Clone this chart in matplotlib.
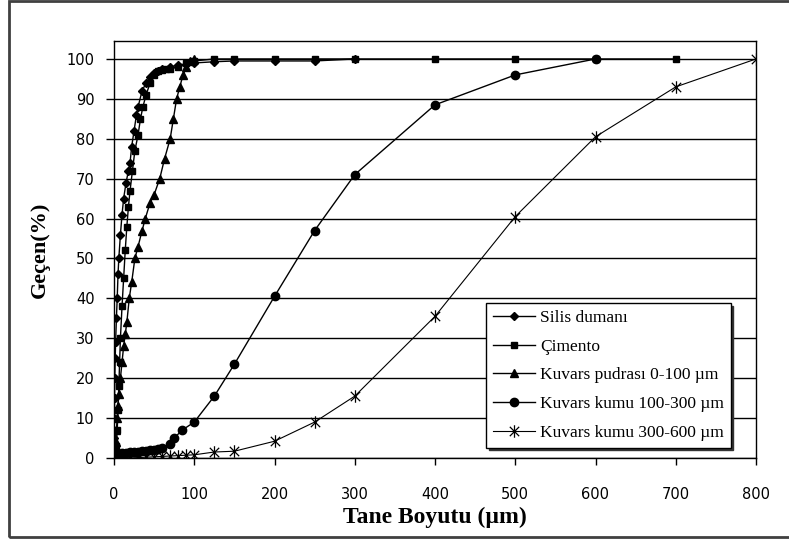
import numpy as np
import matplotlib
matplotlib.use("Agg")
import matplotlib.pyplot as plt
from matplotlib.path import Path
from matplotlib.patches import Rectangle

# Silis dumanı
silis_x = [0.1, 0.2, 0.3, 0.5, 0.7, 1, 1.5, 2, 3, 4, 5, 6, 8, 10, 12, 15, 18, 20, 22, 25, 28, 30,
           35, 40, 45, 50, 55, 60, 70, 80, 100, 125, 150, 200, 250, 300]
silis_y = [0, 2, 5, 10, 15, 20, 25, 29, 35, 40, 46, 50, 56, 61, 65, 69, 72, 74, 78, 82, 86, 88,
           92, 94, 95.5, 96.5, 97, 97.5, 98, 98.5, 99, 99.3, 99.5, 99.5, 99.5, 100]

# Çimento
cim_x = [1, 2, 3, 4, 5, 6, 7, 8, 10, 12, 14, 16, 18, 20, 23, 26, 30, 33, 36, 40, 45, 50, 55, 60,
         65, 70, 80, 90, 100, 125, 150, 200, 250, 300, 400, 500, 600, 700]
cim_y = [0, 1, 3, 7, 12, 18, 24, 30, 38, 45, 52, 58, 63, 67, 72, 77, 81, 85, 88, 91, 94, 96, 97, 97.3,
         97.5, 97.6, 98, 99, 99.5, 100, 100, 100, 100, 100, 100, 100, 100, 100]

# Kuvars pudrası 0-100
pud_x = [0.3, 0.5, 1, 2, 3, 4, 5, 6, 8, 10, 12, 14, 16, 19, 22, 26, 30, 35, 39, 45, 50, 57, 63,
         70, 74, 78, 82, 86, 90, 95, 100]
pud_y = [0, 1, 2, 4, 7, 10, 13, 16, 20, 24, 28, 31, 34, 40, 44, 50, 53, 57, 60, 64, 66, 70, 75,
         80, 85, 90, 93, 96, 98, 99.5, 100]

# Kuvars kumu 100-300
k13_x = [0.5, 1, 2, 3, 4, 5, 6, 8, 10, 15, 20, 25, 30, 35, 40, 45, 50, 55, 60, 70, 75, 85, 100,
         125, 150, 200, 250, 300, 400, 500, 600]
k13_y = [0, 0.3, 0.5, 0.7, 0.8, 0.9, 1, 1.1, 1.2, 1.3, 1.4, 1.5, 1.6, 1.7, 1.8, 1.9, 2, 2.2, 2.4,
         3.5, 5, 7, 9, 15.5, 23.5, 40.5, 57, 71, 88.5, 96, 100]

# Kuvars kumu 300-600
k36_x = [0, 10, 20, 30, 40, 50, 60, 70, 80, 90, 100, 125, 150, 200, 250, 300, 400, 500, 600, 700, 800]
k36_y = [0, 0, 0, 0.1, 0.2, 0.3, 0.4, 0.5, 0.6, 0.7, 0.8, 1.5, 1.7, 4.2, 9, 15.5, 35.5, 60.5, 80.5, 93, 100]

labels = ["Silis dumanı", "Çimento", "Kuvars pudrası 0-100 µm",
          "Kuvars kumu 100-300 µm", "Kuvars kumu 300-600 µm"]

star = Path([(0, -1), (0, 1), (-0.75, -0.75), (0.75, 0.75), (-0.75, 0.75), (0.75, -0.75)],
            [Path.MOVETO, Path.LINETO, Path.MOVETO, Path.LINETO, Path.MOVETO, Path.LINETO])

fig = plt.figure(figsize=(7.89, 5.41), dpi=100)
ax = fig.add_axes([114 / 789, 1 - 458 / 541, (756 - 114) / 789, (458 - 41) / 541])

ax.plot(silis_x, silis_y, 'k-', lw=1, marker='D', ms=4.5, label=labels[0])
ax.plot(cim_x, cim_y, 'k-', lw=1, marker='s', ms=5, label=labels[1])
ax.plot(pud_x, pud_y, 'k-', lw=1, marker='^', ms=5.5, label=labels[2])
ax.plot(k13_x, k13_y, 'k-', lw=1, marker='o', ms=6, label=labels[3])
ax.plot(k36_x, k36_y, 'k-', lw=0.8, marker=star, ms=9, mew=0.9, label=labels[4])

ax.set_xlim(0, 800)
ax.set_ylim(0, 104.5)
ax.set_xticks(np.arange(0, 801, 100))
ax.set_yticks(np.arange(0, 101, 10))
ax.yaxis.grid(True, color='black', lw=1)
ax.set_axisbelow(True)
ax.tick_params(axis='x', direction='out', length=5, width=1, pad=16, labelsize=10.5)
ax.tick_params(axis='y', direction='out', length=6, width=1, pad=8, labelsize=10.5)
for s in ax.spines.values():
    s.set_linewidth(1)

ax.set_xlabel("Tane Boyutu (µm)", family='Liberation Serif', fontweight='bold', fontsize=17, labelpad=3)
ax.set_ylabel("Geçen(%)", family='Liberation Serif', fontweight='bold', fontsize=16, labelpad=12)

leg = ax.legend(loc='upper left', bbox_to_anchor=((486 - 114) / 642, (458 - 303) / 417),
                prop={'family': 'Liberation Serif', 'size': 12.5}, frameon=True, fancybox=False,
                shadow={'color': '#333333', 'alpha': 1}, handlelength=2.4, labelspacing=0.72,
                borderpad=0.4, handletextpad=0.3, borderaxespad=0)
leg.get_frame().set_edgecolor('black')
leg.get_frame().set_linewidth(1)

fig.patches.append(Rectangle((9 / 789, 4 / 541), 1.0, 1 - 5 / 541, transform=fig.transFigure,
                             fill=False, edgecolor='#404040', lw=2))

fig.savefig("out.png", dpi=100)
